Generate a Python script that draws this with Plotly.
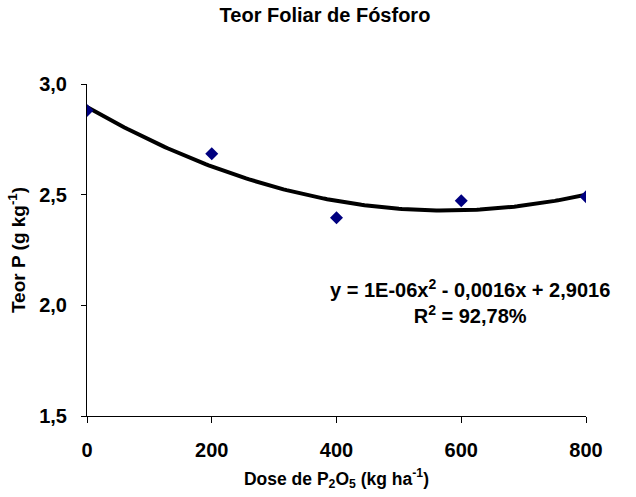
import numpy as np
import plotly.graph_objects as go

doses = [0, 200, 400, 600, 800]
teor_p = [2.88, 2.685, 2.396, 2.473, 2.491]
x_ticks = [0, 200, 400, 600, 800]
y_ticks = [1.5, 2.0, 2.5, 3.0]

coef = np.polyfit(doses, teor_p, 2)
xs = np.linspace(0, 800, 161)
ys = np.polyval(coef, xs)

FONT = "Liberation Sans"

fig = go.Figure()
fig.add_trace(go.Scatter(x=xs, y=ys, mode="lines",
                         line=dict(color="black", width=4), hoverinfo="skip"))
fig.add_trace(go.Scatter(x=doses, y=teor_p, mode="markers",
                         marker=dict(symbol="diamond", color="#000080", size=10)))

fig.add_annotation(x=0.767, y=0.345, xref="paper", yref="paper",
                   xanchor="center", yanchor="middle",
                   text="y = 1E-06x<sup>2</sup> - 0,0016x + 2,9016<br>R<sup>2</sup> = 92,78%",
                   showarrow=False, align="center",
                   font=dict(family=FONT, size=20, color="black", weight="bold"))

fig.update_layout(
    width=636, height=497,
    margin=dict(l=87, r=50, t=84, b=81),
    paper_bgcolor="white", plot_bgcolor="white",
    showlegend=False,
    separators=", ",
    title=dict(text="Teor Foliar de Fósforo", x=0.511, xanchor="center", y=0.97, yanchor="middle",
               font=dict(family=FONT, size=20, color="black", weight="bold")),
    xaxis=dict(range=[0, 800], tickvals=x_ticks, showgrid=False, zeroline=False,
               showline=True, linecolor="black", linewidth=1,
               ticks="outside", ticklen=6, tickcolor="black",
               tickfont=dict(family=FONT, size=20, color="black", weight="bold"),
               title=dict(text="Dose de P<sub>2</sub>O<sub>5</sub> (kg ha<sup>-1</sup>)",
                          font=dict(family=FONT, size=17.5, color="black", weight="bold"),
                          standoff=12)),
    yaxis=dict(range=[1.5, 3.0], tickvals=y_ticks, tickformat=".1f", showgrid=False, zeroline=False,
               showline=True, linecolor="black", linewidth=1,
               ticks="outside", ticklen=5, tickcolor="black",
               tickfont=dict(family=FONT, size=20, color="black", weight="bold"),
               title=dict(text="Teor P (g kg<sup>-1</sup>)",
                          font=dict(family=FONT, size=19, color="black", weight="bold"),
                          standoff=8)),
)
fig.update_xaxes(ticklabelstandoff=10)
fig.update_yaxes(ticklabelstandoff=10)
fig.write_html("out.html")
